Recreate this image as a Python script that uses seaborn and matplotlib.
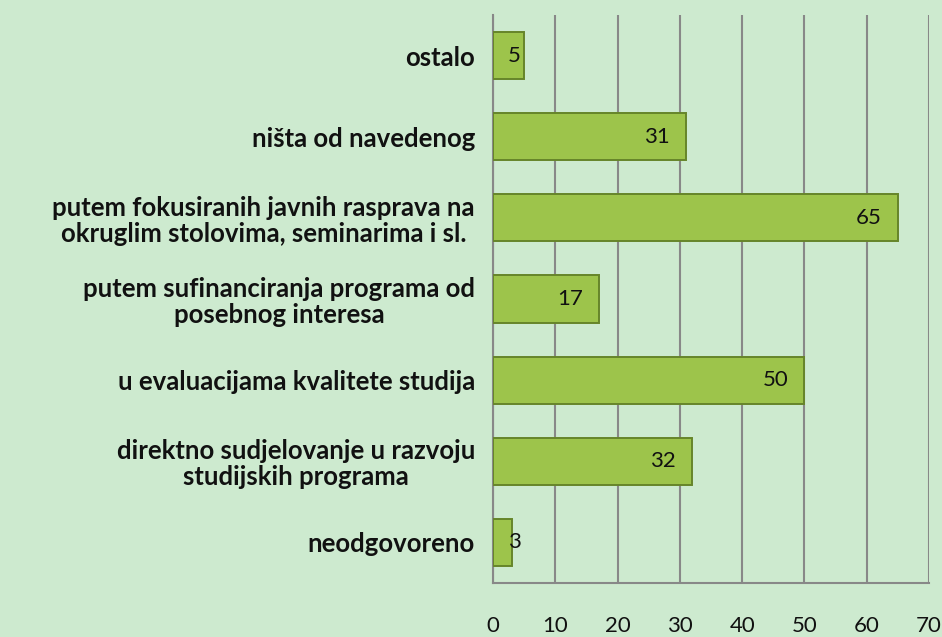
import matplotlib
matplotlib.use("Agg")
import matplotlib.pyplot as plt
import seaborn as sns
import pandas as pd

categories = [
    "ostalo",
    "ništa od navedenog",
    "putem fokusiranih javnih rasprava na\nokruglim stolovima, seminarima i sl.",
    "putem sufinanciranja programa od\nposebnog interesa",
    "u evaluacijama kvalitete studija",
    "direktno sudjelovanje u razvoju\nstudijskih programa",
    "neodgovoreno",
]
values = [5, 31, 65, 17, 50, 32, 3]
xticks = [0, 10, 20, 30, 40, 50, 60, 70]

bg = "#cdeacf"
sns.set_theme(style="white")
plt.rcParams["font.family"] = ["Lato", "DejaVu Sans"]

fig = plt.figure(figsize=(9.42, 6.37), dpi=100, facecolor=bg)
ax = fig.add_axes([0.5234, 0.0848, 0.4628, 0.8917])
ax.set_facecolor(bg)

df = pd.DataFrame({"cat": categories, "val": values})
sns.barplot(data=df, y="cat", x="val", orient="h", color="#9dc44b",
            saturation=1, width=0.58, edgecolor="#66852a", linewidth=1.4,
            ax=ax, zorder=3)

ax.set_xlim(0, 70)
ax.set_xticks(xticks)
ax.set_xticklabels([str(t) for t in xticks], fontsize=16, color="#111111")
ax.tick_params(axis="x", length=0, pad=24)
ax.tick_params(axis="y", length=0, pad=13)
for lbl in ax.get_yticklabels():
    lbl.set_fontweight("bold")
    lbl.set_fontsize(18.5)
    lbl.set_multialignment("center")
    lbl.set_linespacing(1.1)
    lbl.set_color("#111111")
ax.set_xlabel("")
ax.set_ylabel("")

ax.grid(axis="x", color="#888888", linewidth=1.5, zorder=0)
ax.grid(axis="y", visible=False)
for s in ["top", "right"]:
    ax.spines[s].set_visible(False)
for s in ["left", "bottom"]:
    ax.spines[s].set_color("#888888")
    ax.spines[s].set_linewidth(1.5)

for i, v in enumerate(values):
    x = max(v - 2.6, 4.4)
    ax.text(x, i, str(v), ha="right", va="center", fontsize=16,
            color="#111111", zorder=5)

fig.savefig("out.png", dpi=100, facecolor=bg)
